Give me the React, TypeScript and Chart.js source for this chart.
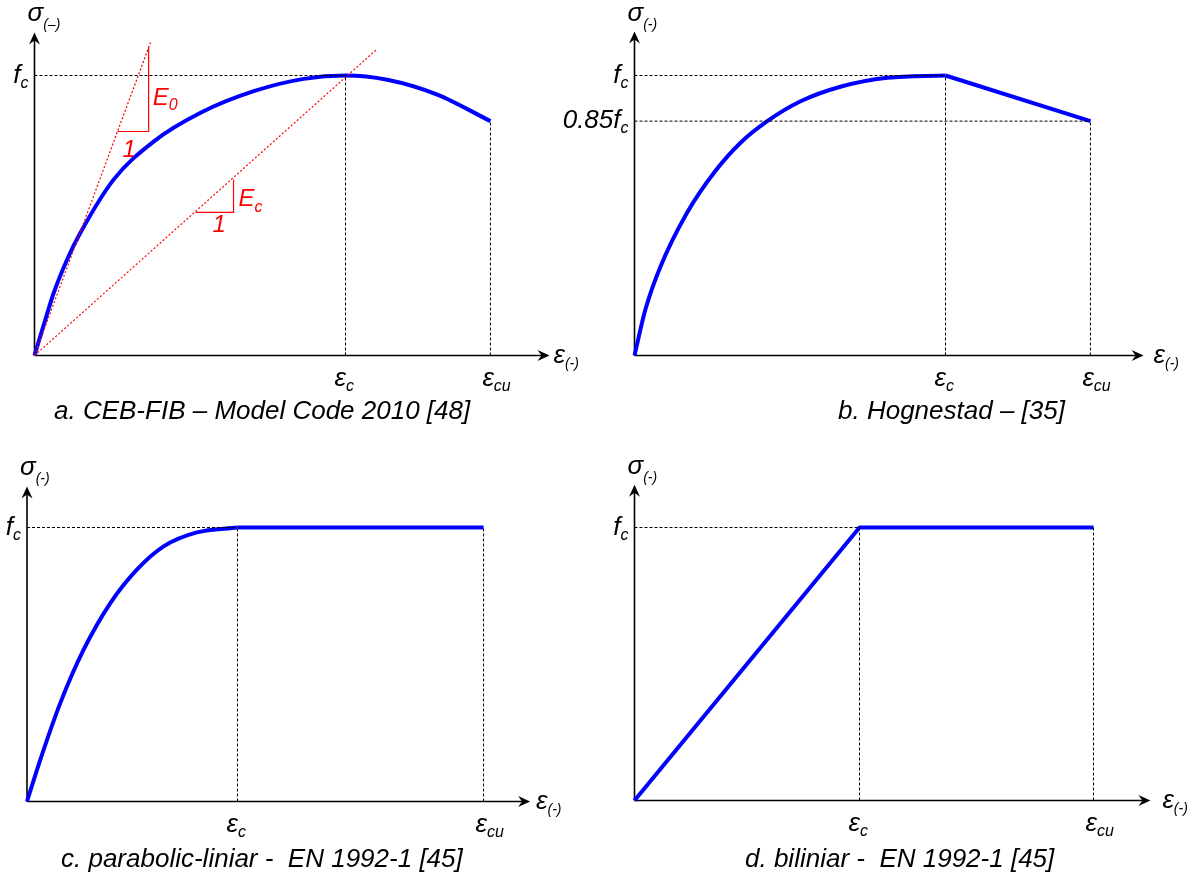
import React, { useEffect, useRef } from "react";
import { Chart, registerables } from "chart.js";

Chart.register(...registerables);

// All values are normalised: strain = ε / εc, stress = σ / fc
const fcLevel = 1;
const epsC = 1;

// a. CEB-FIB – Model Code 2010
const strainA = [0, 0.03, 0.062, 0.105, 0.148, 0.255, 0.384, 0.534, 0.705, 0.866, 1.0, 1.134, 1.295, 1.466];
const stressA = [0, 0.11, 0.224, 0.343, 0.439, 0.629, 0.765, 0.867, 0.944, 0.988, 1.0, 0.985, 0.932, 0.837];
const epsCuA = 1.466;
const tangentE0X = [0, 0.373];
const tangentE0Y = [0, 1.118];
const triE0X = [0.267, 0.367, 0.367];
const triE0Y = [0.8, 0.8, 1.1];
const secantEcX = [0, 1.1];
const secantEcY = [0, 1.093];
const triEcX = [0.518, 0.64, 0.64];
const triEcY = [0.511, 0.511, 0.629];

// b. Hognestad
const strainB = [0, 0.035, 0.084, 0.169, 0.255, 0.341, 0.427, 0.534, 0.662, 0.813, 1.0];
const stressB = [0, 0.164, 0.319, 0.51, 0.652, 0.76, 0.837, 0.908, 0.96, 0.992, 1.0];
const strainBDesc = [1.0, 1.466];
const stressBDesc = [1.0, 0.837];
const epsCuB = 1.466;
const level085 = 0.837;

// c. parabolic-linear EN 1992-1
const strainC = [0, 0.063, 0.158, 0.269, 0.396, 0.522, 0.649, 0.807, 1.0];
const stressC = [0, 0.152, 0.359, 0.554, 0.724, 0.846, 0.931, 0.982, 1.0];
const plateauCX = [1.0, 2.169];
const plateauCY = [1.0, 1.0];
const epsCuC = 2.169;

// d. bilinear EN 1992-1
const strainD = [0, 1.0, 2.04];
const stressD = [0, 1.0, 1.0];
const epsCuD = 2.04;

const FONT = '"Liberation Sans", Arial, Helvetica, sans-serif';

const zip = (xs: number[], ys: number[]) => xs.map((x, i) => ({ x, y: ys[i] }));

const blueStyle = (curved: boolean) => ({
  borderColor: "#0000ff",
  borderWidth: 4,
  pointRadius: 0,
  showLine: true,
  fill: false,
  clip: false as any,
  borderCapStyle: "butt" as const,
  borderJoinStyle: "round" as const,
  cubicInterpolationMode: curved ? ("monotone" as const) : ("default" as const),
  tension: 0,
});
const dashedStyle = {
  borderColor: "#000000",
  borderWidth: 1,
  borderDash: [3, 2],
  pointRadius: 0,
  showLine: true,
  fill: false,
  clip: false as any,
  tension: 0,
};
const redDotted = {
  borderColor: "#ff0000",
  borderWidth: 1.2,
  borderDash: [2, 2],
  pointRadius: 0,
  showLine: true,
  fill: false,
  clip: false as any,
  tension: 0,
};
const redSolid = {
  borderColor: "#ff0000",
  borderWidth: 1.2,
  pointRadius: 0,
  showLine: true,
  fill: false,
  clip: false as any,
  tension: 0,
};

const vline = (x: number, y: number) => ({ ...dashedStyle, data: [{ x, y: 0 }, { x, y }] });
const hline = (x: number, y: number) => ({ ...dashedStyle, data: [{ x: 0, y }, { x, y }] });

interface Note {
  main: string;
  sub?: string;
  x: number;
  y: number;
  dx: number;
  dy: number;
  size: number;
  subSize: number;
  subDy: number;
}

interface Spec {
  left: number;
  top: number;
  width: number;
  height: number;
  originX: number;
  originY: number;
  ux: number;
  uy: number;
  xMax: number;
  yMax: number;
  sigmaSub: string;
  epsAxisGap: number;
  yLabels: { value: number; main: string }[];
  xLabels: { value: number; sub: string; dx: number }[];
  caption: string;
  captionX: number;
  captionY: number;
  datasets: any[];
  notes?: Note[];
}

const specs: Spec[] = [
  {
    left: 0, top: 0, width: 600, height: 440,
    originX: 34.5, originY: 355.5, ux: 311, uy: 280, xMax: 1.656, yMax: 1.154,
    sigmaSub: "(–)", epsAxisGap: 4,
    yLabels: [{ value: fcLevel, main: "f" }],
    xLabels: [{ value: epsC, sub: "c", dx: -11 }, { value: epsCuA, sub: "cu", dx: -8 }],
    caption: "a. CEB-FIB – Model Code 2010 [48]", captionX: 54, captionY: 419,
    datasets: [
      hline(epsC, fcLevel),
      vline(epsC, fcLevel),
      vline(epsCuA, stressA[stressA.length - 1]),
      { ...redDotted, data: zip(tangentE0X, tangentE0Y) },
      { ...redSolid, data: zip(triE0X, triE0Y) },
      { ...redDotted, data: zip(secantEcX, secantEcY) },
      { ...redSolid, data: zip(triEcX, triEcY) },
      { ...blueStyle(true), data: zip(strainA, stressA) },
    ],
    notes: [
      { main: "E", sub: "0", x: triE0X[2], y: triE0Y[1], dx: 4, dy: -27, size: 24, subSize: 16, subDy: 5 },
      { main: "1", x: triE0X[0], y: triE0Y[0], dx: 5, dy: 25, size: 24, subSize: 16, subDy: 0 },
      { main: "E", sub: "c", x: triEcX[2], y: triEcY[1], dx: 5, dy: -6, size: 24, subSize: 16, subDy: 6 },
      { main: "1", x: triEcX[0], y: triEcY[0], dx: 17, dy: 20, size: 24, subSize: 16, subDy: 0 },
    ],
  },
  {
    left: 540, top: 0, width: 658, height: 440,
    originX: 634.5, originY: 355.5, ux: 311, uy: 280, xMax: 1.637, yMax: 1.157,
    sigmaSub: "(-)", epsAxisGap: 10,
    yLabels: [{ value: fcLevel, main: "f" }, { value: level085, main: "0.85f" }],
    xLabels: [{ value: epsC, sub: "c", dx: -11 }, { value: epsCuB, sub: "cu", dx: -8 }],
    caption: "b. Hognestad – [35]", captionX: 838, captionY: 419,
    datasets: [
      hline(epsC, fcLevel),
      hline(epsCuB, level085),
      vline(epsC, fcLevel),
      vline(epsCuB, level085),
      { ...blueStyle(true), data: zip(strainB, stressB) },
      { ...blueStyle(false), data: zip(strainBDesc, stressBDesc) },
    ],
  },
  {
    left: 0, top: 440, width: 600, height: 439,
    originX: 27, originY: 801.5, ux: 210.5, uy: 274, xMax: 2.39, yMax: 1.15,
    sigmaSub: "(-)", epsAxisGap: 6,
    yLabels: [{ value: fcLevel, main: "f" }],
    xLabels: [{ value: epsC, sub: "c", dx: -11 }, { value: epsCuC, sub: "cu", dx: -8 }],
    caption: "c. parabolic-liniar -  EN 1992-1 [45]", captionX: 61, captionY: 867,
    datasets: [
      hline(epsC, fcLevel),
      vline(epsC, fcLevel),
      vline(epsCuC, fcLevel),
      { ...blueStyle(true), data: zip(strainC, stressC) },
      { ...blueStyle(false), data: zip(plateauCX, plateauCY) },
    ],
  },
  {
    left: 540, top: 440, width: 658, height: 439,
    originX: 634.5, originY: 800.5, ux: 225, uy: 273, xMax: 2.293, yMax: 1.157,
    sigmaSub: "(-)", epsAxisGap: 12,
    yLabels: [{ value: fcLevel, main: "f" }],
    xLabels: [{ value: epsC, sub: "c", dx: -11 }, { value: epsCuD, sub: "cu", dx: -8 }],
    caption: "d. biliniar -  EN 1992-1 [45]", captionX: 745, captionY: 867,
    datasets: [
      hline(epsC, fcLevel),
      vline(epsC, fcLevel),
      vline(epsCuD, fcLevel),
      { ...blueStyle(false), data: zip(strainD, stressD) },
    ],
  },
];

function textWithSub(
  ctx: CanvasRenderingContext2D,
  x: number,
  y: number,
  main: string,
  sub: string,
  size: number,
  subSize: number,
  subDy: number,
  color: string,
  align: "left" | "right"
) {
  ctx.save();
  ctx.textAlign = "left";
  ctx.textBaseline = "alphabetic";
  ctx.fillStyle = color;
  ctx.font = `italic ${size}px ${FONT}`;
  const w1 = ctx.measureText(main).width;
  ctx.font = `italic ${subSize}px ${FONT}`;
  const w2 = sub ? ctx.measureText(sub).width : 0;
  const x0 = align === "left" ? x : x - w1 - w2;
  ctx.font = `italic ${size}px ${FONT}`;
  ctx.fillText(main, x0, y);
  if (sub) {
    ctx.font = `italic ${subSize}px ${FONT}`;
    ctx.fillText(sub, x0 + w1, y + subDy);
  }
  ctx.restore();
}

function Panel({ spec }: { spec: Spec }) {
  const ref = useRef<HTMLCanvasElement>(null);
  useEffect(() => {
    const s = spec;
    const padding = {
      left: s.originX - s.left,
      right: s.left + s.width - (s.originX + s.xMax * s.ux),
      top: s.originY - s.yMax * s.uy - s.top,
      bottom: s.top + s.height - s.originY,
    };
    const overlay = {
      id: "overlay",
      beforeDatasetsDraw(chart: any) {
        const ctx: CanvasRenderingContext2D = chart.ctx;
        const xs = chart.scales.x;
        const ys = chart.scales.y;
        const ox = xs.getPixelForValue(0);
        const oy = ys.getPixelForValue(0);
        const tx = xs.getPixelForValue(s.xMax);
        const ty = ys.getPixelForValue(s.yMax);
        ctx.save();
        ctx.strokeStyle = "#000";
        ctx.fillStyle = "#000";
        ctx.lineWidth = 1.6;
        ctx.beginPath();
        ctx.moveTo(ox, oy);
        ctx.lineTo(ox, ty + 6);
        ctx.moveTo(ox, oy);
        ctx.lineTo(tx - 6, oy);
        ctx.stroke();
        // arrow up
        ctx.beginPath();
        ctx.moveTo(ox, ty);
        ctx.lineTo(ox - 5.5, ty + 12);
        ctx.lineTo(ox, ty + 8);
        ctx.lineTo(ox + 5.5, ty + 12);
        ctx.closePath();
        ctx.fill();
        // arrow right
        ctx.beginPath();
        ctx.moveTo(tx, oy);
        ctx.lineTo(tx - 12, oy - 5.5);
        ctx.lineTo(tx - 8, oy);
        ctx.lineTo(tx - 12, oy + 5.5);
        ctx.closePath();
        ctx.fill();
        ctx.restore();
      },
      afterDatasetsDraw(chart: any) {
        const ctx: CanvasRenderingContext2D = chart.ctx;
        const xs = chart.scales.x;
        const ys = chart.scales.y;
        const ox = xs.getPixelForValue(0);
        const oy = ys.getPixelForValue(0);
        const tx = xs.getPixelForValue(s.xMax);
        const ty = ys.getPixelForValue(s.yMax);
        // axis titles
        textWithSub(ctx, ox - 7, ty - 11, "σ", s.sigmaSub, 26, 14, 8, "#000", "left");
        textWithSub(ctx, tx + s.epsAxisGap, oy + 7, "ε", "(-)", 26, 14, 5, "#000", "left");
        // y labels
        for (const l of s.yLabels) {
          textWithSub(ctx, ox - 6, ys.getPixelForValue(l.value) + 7, l.main, "c", 26, 16, 5, "#000", "right");
        }
        // x labels
        for (const l of s.xLabels) {
          textWithSub(ctx, xs.getPixelForValue(l.value) + l.dx, oy + 30, "ε", l.sub, 26, 16, 5, "#000", "left");
        }
        // notes
        for (const n of s.notes || []) {
          textWithSub(
            ctx,
            xs.getPixelForValue(n.x) + n.dx,
            ys.getPixelForValue(n.y) + n.dy,
            n.main,
            n.sub || "",
            n.size,
            n.subSize,
            n.subDy,
            "#ff0000",
            "left"
          );
        }
        // caption
        ctx.save();
        ctx.fillStyle = "#000";
        ctx.font = `italic 26px ${FONT}`;
        ctx.textAlign = "left";
        ctx.textBaseline = "alphabetic";
        ctx.fillText(s.caption, s.captionX - s.left, s.captionY - s.top);
        ctx.restore();
      },
    };
    const chart = new Chart(ref.current!, {
      type: "scatter",
      data: { datasets: s.datasets },
      options: {
        animation: false,
        responsive: false,
        devicePixelRatio: 1,
        events: [],
        layout: { padding },
        plugins: { legend: { display: false }, tooltip: { enabled: false }, title: { display: false } },
        scales: {
          x: { type: "linear", min: 0, max: s.xMax, display: false },
          y: { type: "linear", min: 0, max: s.yMax, display: false },
        },
      },
      plugins: [overlay],
    } as any);
    return () => chart.destroy();
  }, [spec]);
  return (
    <canvas
      ref={ref}
      width={spec.width}
      height={spec.height}
      style={{ position: "absolute", left: spec.left, top: spec.top, width: spec.width, height: spec.height }}
    />
  );
}

export default function App() {
  return (
    <div style={{ position: "absolute", left: 0, top: 0, width: 1198, height: 879, background: "#fff" }}>
      {specs.map((s, i) => (
        <Panel key={i} spec={s} />
      ))}
    </div>
  );
}
